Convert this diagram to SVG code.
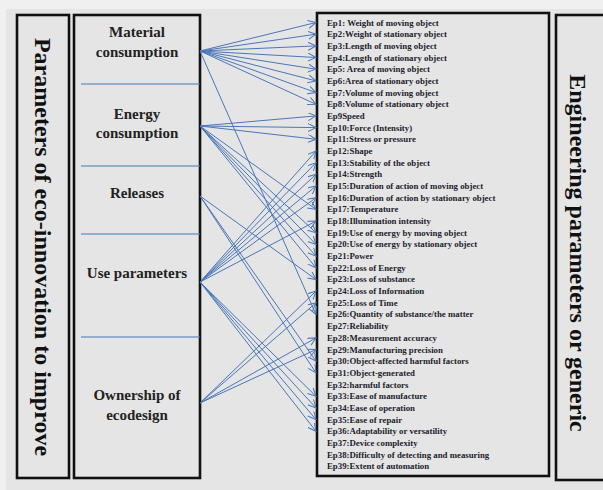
<svg xmlns="http://www.w3.org/2000/svg" width="603" height="490" viewBox="0 0 603 490">
<style>
.box{fill:none;stroke:#111;stroke-width:2.6}
.div{stroke:#4a76b8;stroke-width:1.2}
.cat{font-family:"Liberation Serif","Times New Roman",serif;font-weight:bold;font-size:15px;fill:#222;text-anchor:middle}
.title{font-family:"Liberation Serif","Times New Roman",serif;font-weight:bold;font-size:24px;fill:#111;text-anchor:middle}
.ep{font-family:"Liberation Serif","Times New Roman",serif;font-weight:bold;font-size:8.8px;fill:#1c1c2a}
.c line{stroke:#4a76b8;stroke-width:1;marker-end:url(#ah)}
</style>
<defs>
<marker id="ah" markerUnits="userSpaceOnUse" markerWidth="9" markerHeight="9" refX="8" refY="4" orient="auto">
<path d="M0,0 L8,4 L0,8" fill="none" stroke="#4a76b8" stroke-width="1"/>
</marker>
</defs>
<rect x="0" y="0" width="603" height="490" fill="#f0f0f0"/>
<rect x="6" y="9" width="597" height="481" fill="#e5e5e5"/>

<g id="left-title">
<rect class="box" x="17" y="15" width="52" height="463"/>
<text class="title" transform="translate(43,247) rotate(90)" dy="8">Parameters of eco-innovation to improve</text>
</g>

<g id="categories">
<rect class="box" x="74" y="15" width="126" height="463"/>
<line class="div" x1="81" y1="84" x2="200" y2="84"/>
<line class="div" x1="81" y1="166" x2="200" y2="166"/>
<line class="div" x1="81" y1="234" x2="200" y2="234"/>
<line class="div" x1="81" y1="337" x2="200" y2="337"/>
</g>
<g id="material"><text class="cat" x="137" y="37">Material</text><text class="cat" x="137" y="57">consumption</text></g>
<g id="energy"><text class="cat" x="137" y="119">Energy</text><text class="cat" x="137" y="138">consumption</text></g>
<g id="releases"><text class="cat" x="137" y="198">Releases</text></g>
<g id="use"><text class="cat" x="137" y="278">Use parameters</text></g>
<g id="ownership"><text class="cat" x="137" y="400">Ownership of</text><text class="cat" x="137" y="420">ecodesign</text></g>

<g id="engineering-parameters">
<rect class="box" x="317" y="13" width="232" height="463"/>
<text class="ep">
<tspan x="327" y="25.5">Ep1: Weight of moving object</tspan>
<tspan x="327" dy="11.68">Ep2:Weight of stationary object</tspan>
<tspan x="327" dy="11.68">Ep3:Length of moving object</tspan>
<tspan x="327" dy="11.68">Ep4:Length of stationary object</tspan>
<tspan x="327" dy="11.68">Ep5: Area of moving object</tspan>
<tspan x="327" dy="11.68">Ep6:Area of stationary object</tspan>
<tspan x="327" dy="11.68">Ep7:Volume of moving object</tspan>
<tspan x="327" dy="11.68">Ep8:Volume of stationary object</tspan>
<tspan x="327" dy="11.68">Ep9Speed</tspan>
<tspan x="327" dy="11.68">Ep10:Force (Intensity)</tspan>
<tspan x="327" dy="11.68">Ep11:Stress or pressure</tspan>
<tspan x="327" dy="11.68">Ep12:Shape</tspan>
<tspan x="327" dy="11.68">Ep13:Stability of the object</tspan>
<tspan x="327" dy="11.68">Ep14:Strength</tspan>
<tspan x="327" dy="11.68">Ep15:Duration of action of moving object</tspan>
<tspan x="327" dy="11.68">Ep16:Duration of action by stationary object</tspan>
<tspan x="327" dy="11.68">Ep17:Temperature</tspan>
<tspan x="327" dy="11.68">Ep18:Illumination intensity</tspan>
<tspan x="327" dy="11.68">Ep19:Use of energy by moving object</tspan>
<tspan x="327" dy="11.68">Ep20:Use of energy by stationary object</tspan>
<tspan x="327" dy="11.68">Ep21:Power</tspan>
<tspan x="327" dy="11.68">Ep22:Loss of Energy</tspan>
<tspan x="327" dy="11.68">Ep23:Loss of substance</tspan>
<tspan x="327" dy="11.68">Ep24:Loss of Information</tspan>
<tspan x="327" dy="11.68">Ep25:Loss of Time</tspan>
<tspan x="327" dy="11.68">Ep26:Quantity of substance/the matter</tspan>
<tspan x="327" dy="11.68">Ep27:Reliability</tspan>
<tspan x="327" dy="11.68">Ep28:Measurement accuracy</tspan>
<tspan x="327" dy="11.68">Ep29:Manufacturing precision</tspan>
<tspan x="327" dy="11.68">Ep30:Object-affected harmful factors</tspan>
<tspan x="327" dy="11.68">Ep31:Object-generated</tspan>
<tspan x="327" dy="11.68">Ep32:harmful factors</tspan>
<tspan x="327" dy="11.68">Ep33:Ease of manufacture</tspan>
<tspan x="327" dy="11.68">Ep34:Ease of operation</tspan>
<tspan x="327" dy="11.68">Ep35:Ease of repair</tspan>
<tspan x="327" dy="11.68">Ep36:Adaptability or versatility</tspan>
<tspan x="327" dy="11.68">Ep37:Device complexity</tspan>
<tspan x="327" dy="11.68">Ep38:Difficulty of detecting and measuring</tspan>
<tspan x="327" dy="11.68">Ep39:Extent of automation</tspan>
</text>
</g>

<g id="right-title">
<rect class="box" x="556" y="15" width="60" height="465"/>
<text class="title" transform="translate(578,253) rotate(90)" dy="8">Engineering parameters or generic</text>
</g>

<g id="connectors" class="c">
<line x1="200" y1="51" x2="316" y2="22.5"/>
<line x1="200" y1="51" x2="316" y2="34.2"/>
<line x1="200" y1="51" x2="316" y2="45.9"/>
<line x1="200" y1="51" x2="316" y2="57.5"/>
<line x1="200" y1="51" x2="316" y2="69.2"/>
<line x1="200" y1="51" x2="316" y2="80.9"/>
<line x1="200" y1="51" x2="316" y2="92.6"/>
<line x1="200" y1="51" x2="316" y2="104.3"/>
<line x1="200" y1="51" x2="316" y2="314.5"/>

<line x1="200" y1="126" x2="316" y2="115.9"/>
<line x1="200" y1="126" x2="316" y2="127.6"/>
<line x1="200" y1="126" x2="316" y2="139.3"/>
<line x1="200" y1="126" x2="316" y2="209.4"/>
<line x1="200" y1="126" x2="316" y2="232.7"/>
<line x1="200" y1="126" x2="316" y2="244.4"/>
<line x1="200" y1="126" x2="316" y2="256.1"/>
<line x1="200" y1="126" x2="316" y2="267.8"/>

<line x1="200" y1="196" x2="316" y2="279.5"/>
<line x1="200" y1="196" x2="316" y2="361.2"/>
<line x1="200" y1="196" x2="316" y2="372.9"/>

<line x1="200" y1="282" x2="316" y2="151"/>
<line x1="200" y1="282" x2="316" y2="162.7"/>
<line x1="200" y1="282" x2="316" y2="174.3"/>
<line x1="200" y1="282" x2="316" y2="186"/>
<line x1="200" y1="282" x2="316" y2="197.7"/>
<line x1="200" y1="282" x2="316" y2="221.1"/>
<line x1="200" y1="282" x2="316" y2="396.3"/>
<line x1="200" y1="282" x2="316" y2="407.9"/>
<line x1="200" y1="282" x2="316" y2="419.6"/>
<line x1="200" y1="282" x2="316" y2="431.3"/>

<line x1="200" y1="403" x2="316" y2="291.1"/>
<line x1="200" y1="403" x2="316" y2="302.8"/>
<line x1="200" y1="403" x2="316" y2="337.9"/>
<line x1="200" y1="403" x2="316" y2="349.5"/>
</g>
</svg>
